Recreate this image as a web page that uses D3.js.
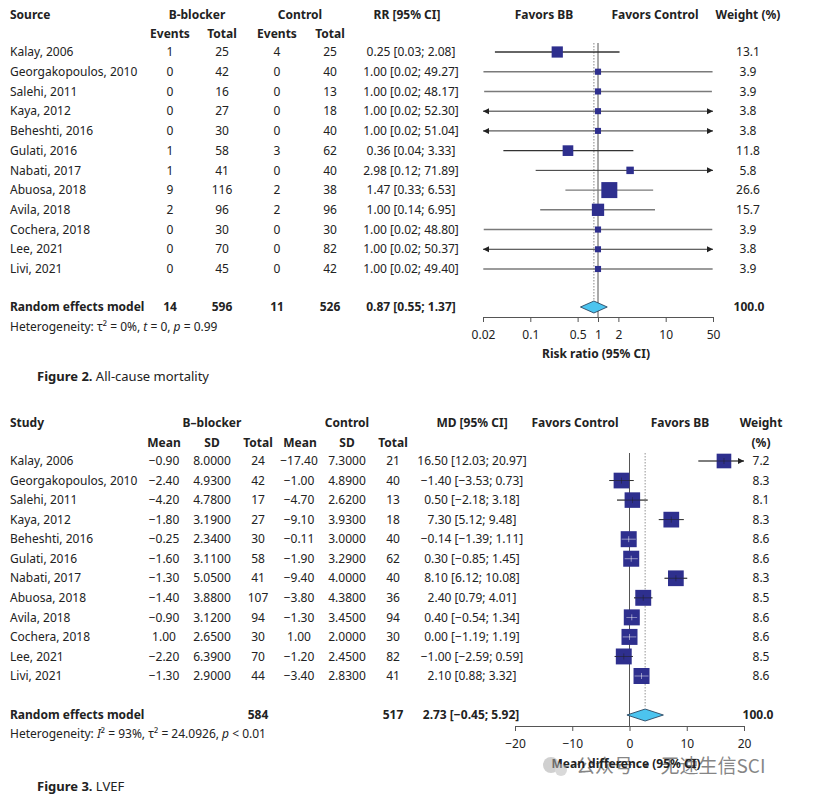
<!DOCTYPE html>
<html><head><meta charset="utf-8">
<script src="https://cdn.jsdelivr.net/npm/d3@7"></script>
<style>
body{margin:0;background:#fff}
svg text{font-family:"Noto Sans","Open Sans",sans-serif;fill:#222}
</style>
</head><body>
<svg id="c" width="820" height="800"></svg>
<script>
// ---------- shared ----------
const studies = ["Kalay, 2006","Georgakopoulos, 2010","Salehi, 2011","Kaya, 2012","Beheshti, 2016","Gulati, 2016","Nabati, 2017","Abuosa, 2018","Avila, 2018","Cochera, 2018","Lee, 2021","Livi, 2021"];
// ---------- Figure 2 : all-cause mortality ----------
const bbEvents   = [1,0,0,0,0,1,1,9,2,0,0,0];
const bbTotal    = [25,42,16,27,30,58,41,116,96,30,70,45];
const ctrlEvents = [4,0,0,0,0,3,0,2,2,0,0,0];
const ctrlTotal  = [25,40,13,18,40,62,40,38,96,30,82,42];
const rr       = [0.25,1,1,1,1,0.36,2.98,1.47,1,1,1,1];
const rrLow    = [0.03,0.0203,0.0208,0.0191,0.0196,0.04,0.12,0.33,0.14,0.0205,0.0199,0.0202];
const rrHigh   = [2.08,49.27,48.17,52.30,51.04,3.33,71.89,6.53,6.95,48.80,50.37,49.40];
const rrWeight = [13.1,3.9,3.9,3.8,3.8,11.8,5.8,26.6,15.7,3.9,3.8,3.9];
const rrPooled = [0.87,0.55,1.37];
const rrPooledCounts = [14,596,11,526];
const rrTicks  = [0.02,0.1,0.5,1,2,10,50];
// ---------- Figure 3 : LVEF ----------
const bbMean   = [-0.90,-2.40,-4.20,-1.80,-0.25,-1.60,-1.30,-1.40,-0.90,1.00,-2.20,-1.30];
const bbSD     = [8.0,4.93,4.78,3.19,2.34,3.11,5.05,3.88,3.12,2.65,6.39,2.90];
const bbN      = [24,42,17,27,30,58,41,107,94,30,70,44];
const ctrlMean = [-17.40,-1.00,-4.70,-9.10,-0.11,-1.90,-9.40,-3.80,-1.30,1.00,-1.20,-3.40];
const ctrlSD   = [7.30,4.89,2.62,3.93,3.00,3.29,4.00,4.38,3.45,2.00,2.45,2.83];
const ctrlN    = [21,40,13,18,40,62,40,36,94,30,82,41];
const md       = [16.50,-1.40,0.50,7.30,-0.14,0.30,8.10,2.40,0.40,0.00,-1.00,2.10];
const mdLow    = [12.03,-3.53,-2.18,5.12,-1.39,-0.85,6.12,0.79,-0.54,-1.19,-2.59,0.88];
const mdHigh   = [20.97,0.73,3.18,9.48,1.11,1.45,10.08,4.01,1.34,1.19,0.59,3.32];
const mdWeight = [7.2,8.3,8.1,8.3,8.6,8.6,8.3,8.5,8.6,8.6,8.5,8.6];
const mdPooled = [2.73,-0.45,5.92];
const mdPooledN = [584,517];
const mdTicks  = [-20,-10,0,10,20];

const svg = d3.select("#c");
const SQ = "#2e2f8e", DIA = "#4cc4ef", DIAS = "#1d3550";
const f2 = d3.format(".2f"), f4 = d3.format(".4f"), f1 = d3.format(".1f");

function txt(g, x, y, s, anchor, bold, size){
  return g.append("text").attr("x",x).attr("y",y).attr("dy","0.35em")
    .attr("text-anchor",anchor||"start").attr("font-size",size||12)
    .attr("font-weight",bold?"bold":null).text(s);
}
function arrow(g, x, y, dir){
  g.append("path").attr("d",`M${x},${y}L${x-6*dir},${y-3}L${x-6*dir},${y+3}Z`).attr("fill","#222");
}

// ================= FIGURE 2 =================
{
  const g = svg.append("g");
  const x = d3.scaleLog().domain([0.02,50]).range([483,713]);
  const y = d3.scaleLinear().domain([0,11]).range([52,269]);
  const s = d3.scaleSqrt().domain([0,d3.max(rrWeight)]).range([0,16]);
  // headers
  txt(g,10,15,"Source","start",true);
  txt(g,197,15,"B-blocker","middle",true);
  txt(g,300,15,"Control","middle",true);
  txt(g,407,15,"RR [95% CI]","middle",true);
  txt(g,544,15,"Favors BB","middle",true);
  txt(g,655,15,"Favors Control","middle",true);
  txt(g,748,15,"Weight (%)","middle",true);
  [[170,"Events"],[222,"Total"],[277,"Events"],[330,"Total"]].forEach(d=>txt(g,d[0],34,d[1],"middle",true));
  // rows
  studies.forEach((n,i)=>{
    const yy = y(i);
    txt(g,10,yy,n);
    txt(g,170,yy,bbEvents[i],"middle");
    txt(g,222,yy,bbTotal[i],"middle");
    txt(g,277,yy,ctrlEvents[i],"middle");
    txt(g,330,yy,ctrlTotal[i],"middle");
    txt(g,411,yy,`${f2(rr[i])} [${f2(rrLow[i])}; ${f2(rrHigh[i])}]`,"middle");
    txt(g,748,yy,f1(rrWeight[i]),"middle");
  });
  // ref lines
  g.append("line").attr("x1",x(1)).attr("x2",x(1)).attr("y1",43).attr("y2",317).attr("stroke","#555").attr("stroke-width",1);
  g.append("line").attr("x1",x(rrPooled[0])).attr("x2",x(rrPooled[0])).attr("y1",43).attr("y2",301)
    .attr("stroke","#777").attr("stroke-width",0.9).attr("stroke-dasharray","1.5,1.5");
  // CI + squares
  studies.forEach((n,i)=>{
    const yy = y(i);
    const lo = Math.max(rrLow[i],0.02), hi = Math.min(rrHigh[i],50);
    const out = rrLow[i]<0.02 || rrHigh[i]>50;
    g.append("line").attr("x1",x(lo)).attr("x2",x(hi)).attr("y1",yy).attr("y2",yy)
      .attr("stroke",out||i===0||i===5||i===6?"#333":"#7a7a7a").attr("stroke-width",out?1:1.4);
    if(rrLow[i]<0.02) arrow(g,x(0.02),yy,-1);
    if(rrHigh[i]>50) arrow(g,x(50),yy,1);
    const w = s(rrWeight[i]);
    g.append("rect").attr("x",x(rr[i])-w/2).attr("y",yy-w/2).attr("width",w).attr("height",w).attr("fill",SQ);
  });
  // pooled
  const py = 307;
  txt(g,10,py,"Random effects model","start",true);
  txt(g,170,py,rrPooledCounts[0],"middle",true);
  txt(g,222,py,rrPooledCounts[1],"middle",true);
  txt(g,277,py,rrPooledCounts[2],"middle",true);
  txt(g,330,py,rrPooledCounts[3],"middle",true);
  txt(g,411,py,`${f2(rrPooled[0])} [${f2(rrPooled[1])}; ${f2(rrPooled[2])}]`,"middle",true);
  txt(g,749,py,"100.0","middle",true);
  g.append("path").attr("d",`M${x(rrPooled[1])},${py}L${x(rrPooled[0])},${py-6}L${x(rrPooled[2])},${py}L${x(rrPooled[0])},${py+6}Z`)
    .attr("fill",DIA).attr("stroke",DIAS).attr("stroke-width",0.8);
  const het = g.append("text").attr("x",10).attr("y",327).attr("dy","0.35em").attr("font-size",12).attr("fill","#333");
  het.append("tspan").text("Heterogeneity: τ² = 0%, ");
  het.append("tspan").attr("font-style","italic").text("t");
  het.append("tspan").text(" = 0, ");
  het.append("tspan").attr("font-style","italic").text("p");
  het.append("tspan").text(" = 0.99");
  // axis
  const ax = g.append("g").attr("transform","translate(0,317)")
    .call(d3.axisBottom(x).tickValues(rrTicks).tickFormat(d=>String(d)).tickSize(5).tickPadding(8).tickSizeOuter(0));
  ax.select(".domain").attr("stroke","#555");
  ax.selectAll(".tick line").attr("stroke","#555");
  ax.selectAll("text").attr("font-size",12).attr("fill","#333").style("font-family","'Noto Sans',sans-serif");
  txt(g,596,354,"Risk ratio (95% CI)","middle",true);
  const cap = g.append("text").attr("x",37).attr("y",376).attr("dy","0.35em").attr("font-size",13);
  cap.append("tspan").attr("font-weight","bold").text("Figure 2.");
  cap.append("tspan").text(" All-cause mortality");
}

// ================= FIGURE 3 =================
{
  const g = svg.append("g");
  const x = d3.scaleLinear().domain([-20,20]).range([515,744]);
  const y = d3.scaleLinear().domain([0,11]).range([461,676]);
  const s = d3.scaleSqrt().domain([0,d3.max(mdWeight)]).range([0,16]);
  txt(g,10,423,"Study","start",true);
  txt(g,212,423,"B–blocker","middle",true);
  txt(g,347,423,"Control","middle",true);
  txt(g,472,423,"MD [95% CI]","middle",true);
  txt(g,575,423,"Favors Control","middle",true);
  txt(g,680,423,"Favors BB","middle",true);
  txt(g,761,423,"Weight","middle",true);
  txt(g,761,443,"(%)","middle",true);
  [[164,"Mean"],[212,"SD"],[258,"Total"],[300,"Mean"],[347,"SD"],[393,"Total"]].forEach(d=>txt(g,d[0],443,d[1],"middle",true));
  studies.forEach((n,i)=>{
    const yy = y(i);
    txt(g,10,yy,n);
    txt(g,164,yy,f2(bbMean[i]),"middle");
    txt(g,212,yy,f4(bbSD[i]),"middle");
    txt(g,258,yy,bbN[i],"middle");
    txt(g,299,yy,f2(ctrlMean[i]),"middle");
    txt(g,347,yy,f4(ctrlSD[i]),"middle");
    txt(g,393,yy,ctrlN[i],"middle");
    txt(g,472,yy,`${f2(md[i])} [${f2(mdLow[i])}; ${f2(mdHigh[i])}]`,"middle");
    txt(g,761,yy,f1(mdWeight[i]),"middle");
  });
  g.append("line").attr("x1",x(0)).attr("x2",x(0)).attr("y1",453).attr("y2",726).attr("stroke","#555").attr("stroke-width",1);
  g.append("line").attr("x1",x(mdPooled[0])).attr("x2",x(mdPooled[0])).attr("y1",453).attr("y2",708)
    .attr("stroke","#888").attr("stroke-width",0.9).attr("stroke-dasharray","1.5,1.5");
  studies.forEach((n,i)=>{
    const yy = y(i);
    const lo = Math.max(mdLow[i],-20), hi = Math.min(mdHigh[i],20);
    const w = s(mdWeight[i]);
    const inside = (x(md[i])-x(mdLow[i]) < w/2) && (x(mdHigh[i])-x(md[i]) < w/2);
    g.append("line").attr("x1",x(lo)).attr("x2",x(hi)).attr("y1",yy).attr("y2",yy).attr("stroke","#444").attr("stroke-width",1);
    if(mdHigh[i]>20) arrow(g,x(20),yy,1);
    if(mdLow[i]<-20) arrow(g,x(-20),yy,-1);
    g.append("rect").attr("x",x(md[i])-w/2).attr("y",yy-w/2).attr("width",w).attr("height",w).attr("fill",SQ);
    const c = inside ? "#ffffff" : "#222";
    g.append("line").attr("x1",x(lo)).attr("x2",x(hi)).attr("y1",yy).attr("y2",yy).attr("stroke",c).attr("stroke-width",0.7).attr("opacity",inside?0.7:0.8);
    g.append("line").attr("x1",x(md[i])).attr("x2",x(md[i])).attr("y1",yy-3).attr("y2",yy+3).attr("stroke",c).attr("stroke-width",0.7).attr("opacity",0.7);
  });
  const py = 715;
  txt(g,10,py,"Random effects model","start",true);
  txt(g,258,py,mdPooledN[0],"middle",true);
  txt(g,393,py,mdPooledN[1],"middle",true);
  txt(g,471,py,`${f2(mdPooled[0])} [${f2(mdPooled[1])}; ${f2(mdPooled[2])}]`,"middle",true);
  txt(g,758,py,"100.0","middle",true);
  g.append("path").attr("d",`M${x(mdPooled[1])},${py}L${x(mdPooled[0])},${py-6}L${x(mdPooled[2])},${py}L${x(mdPooled[0])},${py+6}Z`)
    .attr("fill",DIA).attr("stroke",DIAS).attr("stroke-width",0.8);
  const het = g.append("text").attr("x",10).attr("y",734).attr("dy","0.35em").attr("font-size",12).attr("fill","#333");
  het.append("tspan").text("Heterogeneity: ");
  het.append("tspan").attr("font-style","italic").text("I");
  het.append("tspan").text("² = 93%, τ² = 24.0926, ");
  het.append("tspan").attr("font-style","italic").text("p");
  het.append("tspan").text(" < 0.01");
  const ax = g.append("g").attr("transform","translate(0,726)")
    .call(d3.axisBottom(x).tickValues(mdTicks).tickFormat(d3.format("d")).tickSize(5).tickPadding(8).tickSizeOuter(0));
  ax.select(".domain").attr("stroke","#555");
  ax.selectAll(".tick line").attr("stroke","#555");
  ax.selectAll("text").attr("font-size",12).attr("fill","#333").style("font-family","'Noto Sans',sans-serif");
  txt(g,626,764,"Mean difference (95% CI)","middle",true);
  const cap = g.append("text").attr("x",37).attr("y",786).attr("dy","0.35em").attr("font-size",13);
  cap.append("tspan").attr("font-weight","bold").text("Figure 3.");
  cap.append("tspan").text(" LVEF");
  // watermark
  const wm = svg.append("g").attr("opacity",0.55);
  wm.append("circle").attr("cx",551).attr("cy",765).attr("r",8).attr("fill","#aaa");
  wm.append("circle").attr("cx",561).attr("cy",770).attr("r",6).attr("fill","#bbb");
  wm.append("text").attr("x",576).attr("y",766).attr("dy","0.35em").attr("font-size",19)
    .style("font-family","'Noto Sans CJK SC',sans-serif").attr("fill","#999").text("公众号 · 无速生信SCI");
}
</script>
</body></html>
